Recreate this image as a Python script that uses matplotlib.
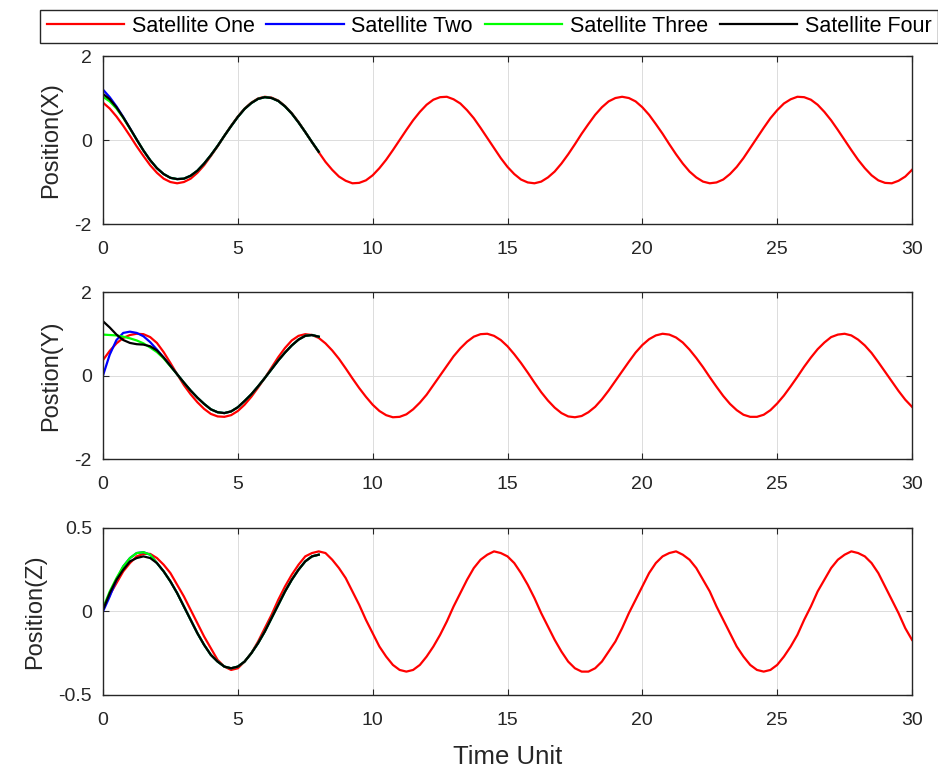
import matplotlib
matplotlib.use('Agg')
import matplotlib.pyplot as plt
import numpy as np

plt.rcParams['font.family'] = ['Liberation Sans', 'DejaVu Sans']
plt.rcParams['axes.edgecolor'] = '#262626'
plt.rcParams['xtick.color'] = '#262626'
plt.rcParams['ytick.color'] = '#262626'

# time grids: satellite one runs the full span, the others only the first 8 units
t_long = np.arange(0, 30.01, 0.25)
t_short = np.arange(0, 8.01, 0.25)

sat_names = ['Satellite One', 'Satellite Two', 'Satellite Three', 'Satellite Four']
sat_colors = ['#ff0000', '#0000ff', '#00ff00', '#000000']

# position X
x_one = [0.89, 0.75, 0.56, 0.34, 0.10, -0.15, -0.38, -0.60, -0.78, -0.92,
         -1.00, -1.03, -1.00, -0.92, -0.78, -0.60, -0.38, -0.15, 0.10, 0.34,
         0.56, 0.75, 0.89, 0.99, 1.03, 1.01, 0.94, 0.81, 0.64, 0.43,
         0.19, -0.05, -0.29, -0.52, -0.71, -0.87, -0.97, -1.03, -1.02, -0.96,
         -0.84, -0.67, -0.47, -0.24, 0.00, 0.24, 0.47, 0.67, 0.84, 0.96,
         1.02, 1.03, 0.97, 0.87, 0.71, 0.52, 0.29, 0.05, -0.19, -0.43,
         -0.64, -0.81, -0.94, -1.01, -1.03, -0.99, -0.89, -0.75, -0.56, -0.34,
         -0.10, 0.15, 0.38, 0.60, 0.78, 0.92, 1.00, 1.03, 1.00, 0.92,
         0.78, 0.60, 0.38, 0.15, -0.10, -0.34, -0.56, -0.75, -0.89, -0.99,
         -1.03, -1.01, -0.94, -0.81, -0.64, -0.43, -0.19, 0.05, 0.29, 0.52,
         0.71, 0.87, 0.97, 1.03, 1.02, 0.96, 0.84, 0.67, 0.47, 0.24,
         0.00, -0.24, -0.47, -0.67, -0.84, -0.96, -1.02, -1.03, -0.97, -0.87,
         -0.71]
x_two = [1.20, 1.02, 0.80, 0.55, 0.28, 0.01, -0.25, -0.48, -0.67, -0.81,
         -0.90, -0.93, -0.92, -0.85, -0.73, -0.56, -0.36, -0.14, 0.10, 0.33,
         0.55, 0.74, 0.88, 0.98, 1.02, 1.00, 0.93, 0.80, 0.63, 0.42,
         0.19, -0.05, -0.28]
x_three = [1.03, 0.92, 0.75, 0.53, 0.27, 0.01, -0.25, -0.48, -0.67, -0.81,
           -0.90, -0.93, -0.92, -0.85, -0.73, -0.56, -0.36, -0.14, 0.10, 0.33,
           0.55, 0.74, 0.88, 0.98, 1.02, 1.00, 0.93, 0.80, 0.63, 0.42,
           0.19, -0.05, -0.28]
x_four = [1.10, 0.97, 0.78, 0.54, 0.28, 0.01, -0.25, -0.48, -0.67, -0.81,
          -0.90, -0.93, -0.92, -0.85, -0.73, -0.56, -0.36, -0.14, 0.10, 0.33,
          0.55, 0.74, 0.88, 0.98, 1.02, 1.00, 0.93, 0.80, 0.63, 0.42,
          0.19, -0.05, -0.28]

# position Y
y_one = [0.37, 0.59, 0.77, 0.90, 0.97, 1.00, 0.99, 0.92, 0.78, 0.56,
         0.30, 0.03, -0.23, -0.45, -0.64, -0.80, -0.92, -0.98, -0.99, -0.95,
         -0.85, -0.70, -0.51, -0.29, -0.06, 0.19, 0.44, 0.66, 0.84, 0.95,
         0.99, 0.97, 0.90, 0.77, 0.60, 0.40, 0.17, -0.07, -0.30, -0.51,
         -0.70, -0.85, -0.95, -1.00, -0.99, -0.93, -0.81, -0.65, -0.46, -0.23,
         0.00, 0.23, 0.46, 0.65, 0.81, 0.93, 0.99, 1.00, 0.95, 0.85,
         0.70, 0.51, 0.30, 0.07, -0.17, -0.40, -0.60, -0.77, -0.90, -0.98,
         -1.00, -0.97, -0.88, -0.75, -0.57, -0.36, -0.13, 0.10, 0.33, 0.55,
         0.73, 0.87, 0.96, 1.00, 0.98, 0.91, 0.79, 0.62, 0.42, 0.20,
         -0.04, -0.27, -0.49, -0.68, -0.83, -0.94, -0.99, -0.99, -0.94, -0.83,
         -0.67, -0.48, -0.26, -0.03, 0.21, 0.43, 0.63, 0.79, 0.92, 0.98,
         1.00, 0.96, 0.86, 0.72, 0.54, 0.32, 0.09, -0.14, -0.37, -0.58,
         -0.75]
y_two = [0.00, 0.50, 0.85, 1.02, 1.05, 1.02, 0.94, 0.80, 0.62, 0.43,
         0.23, 0.03, -0.17, -0.36, -0.53, -0.68, -0.81, -0.88, -0.90, -0.86,
         -0.76, -0.61, -0.45, -0.26, -0.06, 0.15, 0.36, 0.55, 0.72, 0.86,
         0.95, 0.97, 0.93]
y_three = [0.98, 0.97, 0.96, 0.93, 0.89, 0.84, 0.77, 0.67, 0.56, 0.41,
           0.22, 0.03, -0.17, -0.36, -0.53, -0.68, -0.81, -0.88, -0.90, -0.86,
           -0.76, -0.61, -0.45, -0.26, -0.06, 0.15, 0.36, 0.55, 0.72, 0.86,
           0.95, 0.97, 0.93]
y_four = [1.30, 1.15, 0.98, 0.85, 0.78, 0.75, 0.74, 0.70, 0.60, 0.43,
          0.23, 0.03, -0.17, -0.36, -0.53, -0.68, -0.81, -0.88, -0.90, -0.86,
          -0.76, -0.61, -0.45, -0.26, -0.06, 0.15, 0.36, 0.55, 0.72, 0.86,
          0.95, 0.97, 0.93]

# position Z
z_one = [0.02, 0.10, 0.17, 0.24, 0.29, 0.33, 0.345, 0.345, 0.32, 0.28,
         0.23, 0.16, 0.09, 0.01, -0.07, -0.15, -0.22, -0.29, -0.33, -0.35,
         -0.34, -0.30, -0.25, -0.18, -0.10, -0.02, 0.07, 0.15, 0.22, 0.28,
         0.33, 0.35, 0.36, 0.35, 0.31, 0.26, 0.20, 0.12, 0.04, -0.05,
         -0.13, -0.21, -0.27, -0.32, -0.35, -0.36, -0.35, -0.32, -0.27, -0.21,
         -0.14, -0.06, 0.03, 0.11, 0.19, 0.26, 0.31, 0.34, 0.36, 0.35,
         0.33, 0.29, 0.23, 0.16, 0.08, -0.01, -0.09, -0.17, -0.24, -0.30,
         -0.34, -0.36, -0.36, -0.34, -0.30, -0.24, -0.18, -0.10, -0.01, 0.07,
         0.15, 0.23, 0.29, 0.33, 0.35, 0.36, 0.34, 0.31, 0.26, 0.19,
         0.12, 0.03, -0.05, -0.13, -0.21, -0.27, -0.32, -0.35, -0.36, -0.35,
         -0.32, -0.27, -0.21, -0.14, -0.05, 0.03, 0.12, 0.19, 0.26, 0.31,
         0.34, 0.36, 0.35, 0.33, 0.29, 0.23, 0.15, 0.07, -0.01, -0.10,
         -0.17]
z_two = [0.00, 0.09, 0.19, 0.27, 0.32, 0.35, 0.355, 0.34, 0.29, 0.24,
         0.18, 0.11, 0.03, -0.05, -0.13, -0.20, -0.26, -0.30, -0.33, -0.34,
         -0.33, -0.30, -0.25, -0.19, -0.12, -0.04, 0.04, 0.12, 0.19, 0.25,
         0.30, 0.33, 0.34]
z_three = [0.02, 0.12, 0.20, 0.27, 0.32, 0.35, 0.355, 0.34, 0.29, 0.24,
           0.18, 0.11, 0.03, -0.05, -0.13, -0.20, -0.26, -0.30, -0.33, -0.34,
           -0.33, -0.30, -0.25, -0.19, -0.12, -0.04, 0.04, 0.12, 0.19, 0.25,
           0.30, 0.33, 0.34]
z_four = [0.01, 0.11, 0.19, 0.25, 0.30, 0.32, 0.33, 0.32, 0.29, 0.24,
          0.18, 0.11, 0.03, -0.05, -0.13, -0.20, -0.26, -0.30, -0.33, -0.34,
          -0.33, -0.30, -0.25, -0.19, -0.12, -0.04, 0.04, 0.12, 0.19, 0.25,
          0.30, 0.33, 0.34]

panels = [
    ('Position(X)', [x_one, x_two, x_three, x_four], [-2, 0, 2], ['-2', '0', '2']),
    ('Postion(Y)', [y_one, y_two, y_three, y_four], [-2, 0, 2], ['-2', '0', '2']),
    ('Position(Z)', [z_one, z_two, z_three, z_four], [-0.5, 0, 0.5], ['-0.5', '0', '0.5']),
]

fig = plt.figure(figsize=(9.38, 7.76), dpi=100)
boxes = [[0.1098, 0.7113, 0.8625, 0.2165],
         [0.1098, 0.4085, 0.8625, 0.2152],
         [0.1098, 0.1044, 0.8625, 0.2152]]

handles = []
for box, (label, series, yt, ytl) in zip(boxes, panels):
    ax = fig.add_axes(box)
    for i, vals in enumerate(series):
        tt = t_long if i == 0 else t_short
        ln, = ax.plot(tt, vals, color=sat_colors[i], lw=1.6, label=sat_names[i])
        if len(handles) < 4:
            handles.append(ln)
    ax.set_xlim(0, 30)
    ax.set_ylim(yt[0], yt[-1])
    ax.set_xticks(range(0, 31, 5))
    ax.set_yticks(yt)
    ax.set_yticklabels(ytl)
    ax.grid(True, color='#dcdcdc', lw=0.7)
    ax.tick_params(direction='in', top=True, right=True, labelsize=14, length=4)
    ax.tick_params(axis='x', pad=12)
    ax.tick_params(axis='y', pad=8)
    for s in ax.spines.values():
        s.set_linewidth(1.0)
    ax.set_ylabel(label, fontsize=17, color='#262626', labelpad=9)

ax.set_xlabel('Time Unit', fontsize=18.5, color='#262626', labelpad=12)

leg = fig.legend(handles, sat_names, loc='center', bbox_to_anchor=(0.5213, 0.9659),
                 ncol=4, fontsize=15.5, handlelength=3.6, handletextpad=0.35,
                 columnspacing=0.55, borderpad=0.3, fancybox=False, framealpha=1)
leg.get_frame().set_edgecolor('#262626')
leg.get_frame().set_linewidth(1.0)

fig.savefig('out.png', dpi=100)
